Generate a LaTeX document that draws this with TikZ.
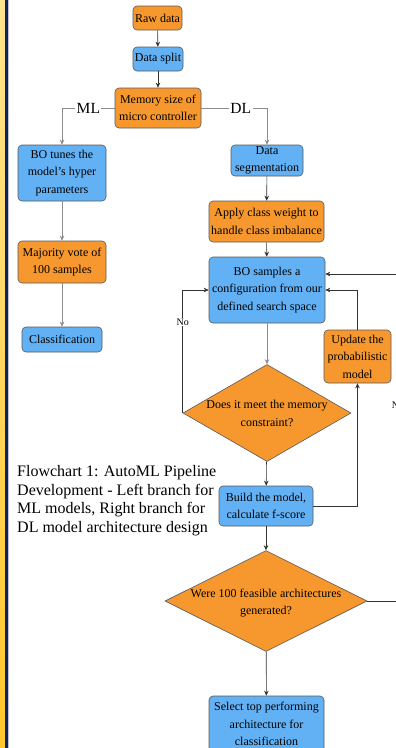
\documentclass[tikz,border=0pt]{standalone}
\usepackage{fontspec}
\setmainfont{Liberation Serif}
\usetikzlibrary{arrows.meta, shapes.geometric}
\definecolor{boxorange}{HTML}{F7982F}
\definecolor{boxblue}{HTML}{63B1F5}
\definecolor{stripnavy}{HTML}{0B2359}
\definecolor{striptop}{HTML}{FFE48E}
\definecolor{stripbottom}{HTML}{FFC72C}

\begin{document}
\begin{tikzpicture}[x=1pt, y=-1pt, >={Stealth[length=5pt,width=4.5pt]},
	box/.style={draw=black!65, line width=0.6pt, rounded corners=4pt, align=center, inner sep=1pt, font=\fontsize{12}{17.5}\selectfont},
	ob/.style={box, fill=boxorange},
	bb/.style={box, fill=boxblue},
	decision/.style={diamond, draw=black!65, line width=0.6pt, fill=boxorange, inner sep=0pt},
	qtext/.style={align=center, font=\fontsize{12}{17.5}\selectfont},
	branch/.style={fill=white, inner sep=1.5pt, font=\fontsize{15.5}{18}\selectfont},
	flow/.style={->, draw=black!80, line width=0.6pt},
	gflow/.style={->, draw=black!45, line width=0.6pt}]

		\useasboundingbox (0,0) rectangle (396,748);
		\fill[top color=striptop, bottom color=stripbottom] (0,0) rectangle (5,748);
		\fill[stripnavy] (5,0) rectangle (8,748);
		\fill[blue!15!gray!40] (8,0) rectangle (9,748);

		\node [ob, minimum width=49pt, minimum height=24pt] (raw) at (157.5,18) {Raw data};
		\node [bb, minimum width=50pt, minimum height=24pt] (split) at (158,59) {Data split};
		\node [ob, minimum width=86pt, minimum height=40pt] (mem) at (158,108) {Memory size of\\micro controller};

		\node [bb, minimum width=88pt, minimum height=56pt] (tune) at (62,173) {BO tunes the\\model's hyper\\parameters};
		\node [ob, minimum width=88pt, minimum height=42pt] (vote) at (62,262) {Majority vote of\\100 samples};
		\node [bb, minimum width=80pt, minimum height=25pt] (cls) at (62,339.5) {Classification};

		\node [bb, minimum width=72pt, minimum height=31pt, font=\fontsize{12}{16.5}\selectfont] (seg) at (267,160.5) {Data\\segmentation};
		\node [ob, minimum width=115pt, minimum height=41pt] (weight) at (266.5,221.5) {Apply class weight to\\handle class imbalance};
		\node [bb, minimum width=116pt, minimum height=66pt] (bo) at (267,290) {BO samples a\\configuration from our\\defined search space};
		\node [ob, minimum width=67pt, minimum height=53pt] (upd) at (357.5,356.5) {Update the\\probabilistic\\model};

		\node [decision, minimum width=168pt, minimum height=97pt] (q1) at (267,413) {};
		\node [qtext] (q1text) at (267,413.5) {Does it meet the memory\\constraint?};
		\node [bb, minimum width=94pt, minimum height=40pt] (build) at (266,506) {Build the model,\\calculate f-score};
		\node [decision, minimum width=202pt, minimum height=101pt] (q2) at (266,601) {};
		\node [qtext] (q2text) at (266,603) {Were 100 feasible architectures\\generated?};
		\node [bb, minimum width=115pt, minimum height=56pt] (sel) at (266.5,724) {Select top performing\\architecture for\\classification};

		\node [align=left, anchor=north west, inner sep=0pt, font=\fontsize{16}{18.7}\selectfont] (caption) at (17,465)
			{Flowchart 1: AutoML Pipeline\\Development - Left branch for\\ML models, Right branch for\\DL model architecture design};

		\draw[flow] (raw) -- (split);
		\draw[flow] (split) -- (mem);
		\draw[gflow] (mem.west) -| node[branch, pos=0.25] {ML} (tune.north);
		\draw[gflow] (mem.east) -| node[branch, pos=0.3] {DL} (seg.north);
		\draw[gflow] (tune) -- (vote);
		\draw[gflow] (vote) -- (cls);
		\draw[flow] (seg) -- (weight);
		\draw[flow] (weight) -- (bo);
		\draw[gflow] (bo) -- (q1);
		\draw[flow] (q1.west) |- node[pos=0.37, fill=white, inner sep=1pt, font=\fontsize{10}{12}\selectfont] {No} (bo.west);
		\draw[flow] (q1) -- (build);
		\draw[flow] (build.east) -| (upd.south);
		\draw[flow] (upd.north) |- (bo.east);
		\draw[flow] (build) -- (q2);
		\draw[flow] (q2) -- (sel);
		\draw[flow] (q2.east) -- (398,601) -- node[pos=0.6, fill=white, inner sep=1pt, font=\fontsize{10}{12}\selectfont] {No} (398,274) -- (bo.east |- 0,274);
\end{tikzpicture}
\end{document}
